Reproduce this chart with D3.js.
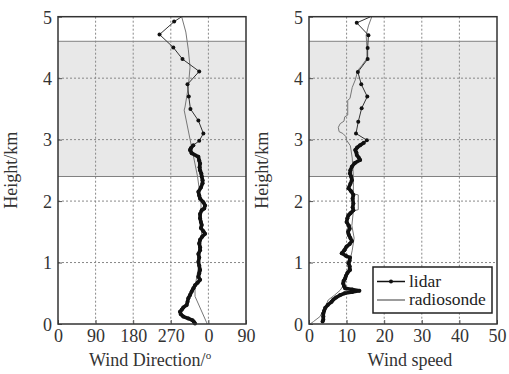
<!DOCTYPE html>
<html>
<head>
<meta charset="utf-8">
<script src="https://cdn.jsdelivr.net/npm/d3@7"></script>
<style>
  body { margin: 0; background: #fff; }
  svg { display: block; font-family: "Liberation Serif", "Times New Roman", serif; }
</style>
</head>
<body>
<div id="chart"></div>
<script>
// heights in km
const dirTicks = [0, 90, 180, 270, 360, 450];
const speedTicks = [0, 10, 20, 30, 40, 50];
const heightTicks = [0, 1, 2, 3, 4, 5];
const cloudLayer = [2.4, 4.6];

// [height, direction] direction unwrapped past 360
const lidarDir = [
  [5.0, 296],
  [4.92, 278], [4.71, 243], [4.50, 276], [4.31, 298], [4.11, 338], [3.90, 310],
  [3.70, 313], [3.50, 317], [3.31, 336], [3.10, 348], [2.98, 338],
  [2.91, 324], [2.86, 318], [2.83, 316], [2.78, 320], [2.72, 336], [2.66, 338],
  [2.61, 340], [2.55, 339], [2.50, 340], [2.45, 343], [2.40, 344], [2.34, 346],
  [2.29, 346], [2.22, 342], [2.15, 336], [2.09, 338], [2.04, 340], [1.98, 348],
  [1.93, 352], [1.88, 350], [1.85, 344], [1.79, 340], [1.72, 340], [1.66, 342],
  [1.61, 344], [1.56, 342], [1.51, 348], [1.47, 352], [1.42, 345], [1.37, 340],
  [1.31, 338], [1.25, 340], [1.20, 340], [1.14, 336], [1.08, 338], [1.01, 336],
  [0.95, 338], [0.88, 340], [0.82, 338], [0.77, 336], [0.72, 340], [0.67, 334],
  [0.63, 328], [0.58, 324], [0.53, 320], [0.47, 316], [0.42, 312], [0.36, 310],
  [0.31, 308], [0.27, 300], [0.23, 296], [0.20, 292], [0.16, 294], [0.12, 300],
  [0.09, 312], [0.06, 322], [0.03, 326], [0.01, 328]
];
const sondeDir = [
  [5.0, 296], [4.75, 306], [4.46, 312], [4.18, 316], [3.86, 312], [3.53, 304],
  [3.48, 302], [2.40, 334], [2.0, 342], [1.5, 344], [1.0, 338], [0.6, 328],
  [0.45, 328], [0.02, 356], [0.0, 357]
];

// [height, speed]
const lidarSpeed = [
  [5.0, 16.4],
  [4.90, 12.7], [4.70, 15.8], [4.49, 15.6], [4.31, 15.6], [4.10, 13.0], [3.90, 13.9],
  [3.70, 15.5], [3.51, 14.0], [3.29, 13.1], [3.10, 12.5], [2.99, 15.4],
  [2.95, 14.6], [2.91, 13.6], [2.87, 12.8], [2.83, 12.3], [2.79, 12.6], [2.75, 12.7],
  [2.71, 13.2], [2.67, 13.6], [2.62, 12.2], [2.56, 11.4], [2.50, 11.0], [2.45, 10.9],
  [2.40, 11.2], [2.34, 11.4], [2.28, 11.0], [2.21, 10.5], [2.16, 11.2], [2.10, 11.8],
  [2.04, 11.6], [1.96, 11.8], [1.90, 11.6], [1.85, 11.8], [1.80, 11.0], [1.77, 10.5],
  [1.72, 10.2], [1.66, 10.0], [1.60, 10.6], [1.55, 10.8], [1.50, 10.4], [1.45, 10.6],
  [1.40, 11.0], [1.35, 11.4], [1.30, 10.8], [1.26, 10.0], [1.20, 9.4], [1.15, 8.7],
  [1.11, 9.8], [1.08, 10.9], [1.03, 10.8], [0.99, 10.5], [0.94, 10.8], [0.88, 10.9],
  [0.83, 10.2], [0.78, 9.8], [0.74, 9.6], [0.70, 9.2], [0.66, 9.1], [0.62, 9.3],
  [0.58, 9.6], [0.56, 11.5], [0.54, 13.4], [0.52, 11.5], [0.50, 9.5], [0.47, 8.3],
  [0.43, 7.2], [0.40, 6.5], [0.36, 6.0], [0.31, 5.0], [0.26, 4.3], [0.21, 4.0],
  [0.17, 3.8], [0.12, 3.8], [0.07, 3.8], [0.04, 3.6]
];
const sondeSpeed = [
  [5.0, 16.7], [4.85, 15.8], [4.70, 15.2], [4.50, 15.4], [4.32, 15.4], [4.20, 14.0],
  [4.13, 13.0], [3.97, 12.3], [3.85, 11.5], [3.67, 10.9], [3.64, 10.3], [3.40, 10.3],
  [3.37, 9.5], [3.30, 9.3], [3.26, 8.3], [3.20, 7.8], [3.13, 8.0], [3.10, 9.0],
  [3.05, 9.8], [2.99, 10.0], [2.90, 11.0], [2.70, 11.5], [2.40, 11.8], [2.12, 11.8],
  [2.10, 13.1], [1.86, 13.1], [1.84, 11.8], [1.60, 11.4], [1.40, 12.0], [1.20, 11.5],
  [1.00, 10.8], [0.80, 10.0], [0.65, 9.4], [0.55, 8.3], [0.47, 6.8], [0.39, 5.1],
  [0.28, 4.4], [0.20, 3.6], [0.12, 2.9], [0.04, 1.2], [0.0, 0.3]
];

const W = 509, H = 374;
const plotTop = 16.7, plotBottom = 324;
const fontSize = 18;

const svg = d3.select('#chart').append('svg')
  .attr('width', W)
  .attr('height', H);

const y = d3.scaleLinear().domain([0, 5]).range([plotBottom, plotTop]);

function drawPanel(opts) {
  const x = d3.scaleLinear().domain(opts.domain).range([opts.left, opts.right]);
  const g = svg.append('g');

  // shaded cloud layer
  g.append('rect')
    .attr('x', opts.left)
    .attr('y', y(cloudLayer[1]))
    .attr('width', opts.right - opts.left)
    .attr('height', y(cloudLayer[0]) - y(cloudLayer[1]))
    .attr('fill', '#e8e8e8');
  cloudLayer.forEach(h => {
    g.append('line')
      .attr('x1', opts.left).attr('x2', opts.right)
      .attr('y1', y(h)).attr('y2', y(h))
      .attr('stroke', '#808080').attr('stroke-width', 1);
  });

  // dotted grid
  g.append('g').selectAll('line')
    .data(opts.ticks.slice(1, -1))
    .enter().append('line')
    .attr('x1', d => x(d)).attr('x2', d => x(d))
    .attr('y1', plotTop).attr('y2', plotBottom)
    .attr('stroke', '#888').attr('stroke-width', 1)
    .attr('stroke-dasharray', '2,2');
  g.append('g').selectAll('line')
    .data(heightTicks.slice(1, -1))
    .enter().append('line')
    .attr('x1', opts.left).attr('x2', opts.right)
    .attr('y1', d => y(d)).attr('y2', d => y(d))
    .attr('stroke', '#888').attr('stroke-width', 1)
    .attr('stroke-dasharray', '2,2');

  // axes with short inward ticks
  const xAxis = g.append('g')
    .attr('transform', `translate(0,${plotBottom})`)
    .call(d3.axisBottom(x).tickValues(opts.ticks).tickSize(-4).tickPadding(5)
      .tickFormat(opts.format));
  const yAxis = g.append('g')
    .attr('transform', `translate(${opts.left},0)`)
    .call(d3.axisLeft(y).tickValues(heightTicks).tickSize(-4).tickPadding(6)
      .tickFormat(d3.format('d')));
  [xAxis, yAxis].forEach(a => {
    a.select('.domain').remove();
    a.selectAll('line').attr('stroke', '#555');
    a.selectAll('text')
      .attr('font-family', 'Liberation Serif, serif')
      .attr('font-size', fontSize)
      .attr('fill', '#333');
  });
  yAxis.selectAll('text').attr('dy', '0.35em');

  // radiosonde
  const line = d3.line().x(d => x(d[1])).y(d => y(d[0]));
  g.append('path')
    .datum(opts.sonde)
    .attr('d', line)
    .attr('fill', 'none')
    .attr('stroke', '#777')
    .attr('stroke-width', 1);

  // lidar: thin line with dots above 2.95 km, thick dense trace below
  g.append('path')
    .datum(opts.lidar)
    .attr('d', line)
    .attr('fill', 'none')
    .attr('stroke', '#333')
    .attr('stroke-width', 1);
  g.append('path')
    .datum(opts.lidar.filter(d => d[0] < 2.96))
    .attr('d', line)
    .attr('fill', 'none')
    .attr('stroke', '#111')
    .attr('stroke-width', 3.6)
    .attr('stroke-linejoin', 'round');
  g.append('g').selectAll('circle')
    .data(opts.lidar.filter(d => d[0] < 5))
    .enter().append('circle')
    .attr('cx', d => x(d[1]))
    .attr('cy', d => y(d[0]))
    .attr('r', 2)
    .attr('fill', '#111');

  // frame
  g.append('rect')
    .attr('x', opts.left).attr('y', plotTop)
    .attr('width', opts.right - opts.left)
    .attr('height', plotBottom - plotTop)
    .attr('fill', 'none')
    .attr('stroke', '#333')
    .attr('stroke-width', 1.5);

  // titles
  g.append('text')
    .attr('transform', `translate(${opts.left - 41},${(plotTop + plotBottom) / 2}) rotate(-90)`)
    .attr('text-anchor', 'middle')
    .attr('font-size', fontSize)
    .attr('fill', '#333')
    .text('Height/km');
  const t = g.append('text')
    .attr('x', (opts.left + opts.right) / 2 + opts.titleShift)
    .attr('y', 366)
    .attr('text-anchor', 'middle')
    .attr('font-size', fontSize)
    .attr('fill', '#333')
    .text(opts.title);
  if (opts.sup) {
    t.append('tspan')
      .attr('font-size', 11)
      .attr('dy', -7)
      .text(opts.sup);
  }
  return x;
}

drawPanel({
  left: 58, right: 246,
  domain: [0, 450], ticks: dirTicks,
  format: d => d % 360,
  lidar: lidarDir, sonde: sondeDir,
  title: 'Wind Direction/', sup: 'o', titleShift: -2
});

drawPanel({
  left: 309, right: 497,
  domain: [0, 50], ticks: speedTicks,
  format: d3.format('d'),
  lidar: lidarSpeed, sonde: sondeSpeed,
  title: 'Wind speed', titleShift: 7
});

// legend
const legend = svg.append('g');
legend.append('rect')
  .attr('x', 373).attr('y', 267)
  .attr('width', 119).attr('height', 46)
  .attr('fill', '#fff')
  .attr('stroke', '#222')
  .attr('stroke-width', 1.5);
const items = [
  { name: 'lidar', color: '#111', dot: true },
  { name: 'radiosonde', color: '#666', dot: false }
];
items.forEach((it, i) => {
  const ly = 281.5 + i * 18.5;
  legend.append('line')
    .attr('x1', 377).attr('x2', 405)
    .attr('y1', ly).attr('y2', ly)
    .attr('stroke', it.color)
    .attr('stroke-width', it.dot ? 1.5 : 1.3);
  if (it.dot) {
    legend.append('circle').attr('cx', 391).attr('cy', ly).attr('r', 2).attr('fill', '#111');
  }
  legend.append('text')
    .attr('x', 409).attr('y', ly)
    .attr('dy', '0.3em')
    .attr('font-size', 17.5)
    .attr('fill', '#222')
    .text(it.name);
});
</script>
</body>
</html>
